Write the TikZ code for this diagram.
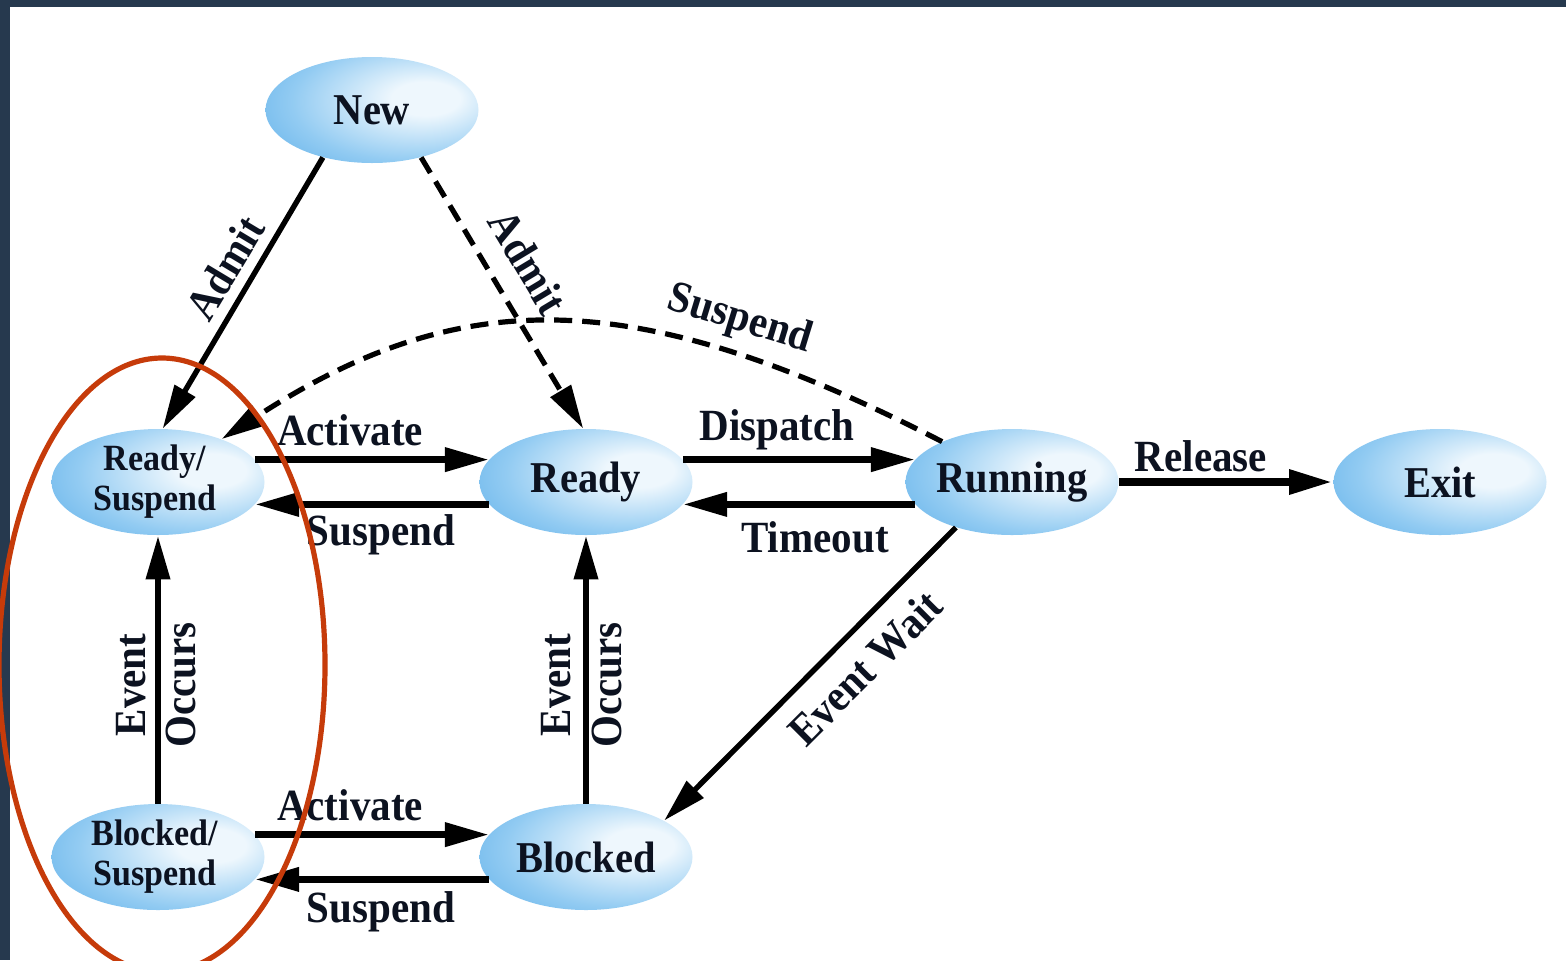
\documentclass[tikz,border=0pt]{standalone}
\usepackage{fontspec}
\setmainfont{Liberation Serif}[FakeStretch=0.92]
\usetikzlibrary{arrows.meta,shapes.geometric}

\definecolor{frame}{HTML}{26394E}
\definecolor{bA}{HTML}{EEF7FD}
\definecolor{bB}{HTML}{92CBF2}
\definecolor{bC}{HTML}{45A2E5}
\definecolor{ink}{HTML}{0C1220}
\definecolor{ring}{HTML}{C63B0A}

% soft blue bubble, brightest a little right of centre
\pgfdeclareradialshading{bubble}{\pgfpoint{14bp}{6bp}}{%
  color(0bp)=(bA); color(8bp)=(bA); color(28bp)=(bB);
  color(50bp)=(bC); color(80bp)=(bC)}

\tikzset{
  state/.style={ellipse, minimum width=106.5pt, minimum height=53pt,
    inner sep=0pt, shade, shading=bubble},
  stxt/.style={font=\fontsize{22}{24}\selectfont\bfseries, text=ink, inner sep=0pt},
  stxt2/.style={font=\fontsize{18.5}{20}\selectfont\bfseries, text=ink,
    align=center, inner sep=0pt, xshift=-1.5pt},
  lbl/.style={font=\fontsize{22.3}{24}\selectfont\bfseries, text=ink, inner sep=0pt},
  tip/.style={-{Triangle[length=22pt,width=11.5pt]}},
  flow/.style={tip, line width=3.4pt, black},
  thin/.style={tip, line width=2.7pt, black},
  dflow/.style={tip, line width=2.6pt, black, dash pattern=on 9pt off 5pt},
}

\begin{document}
\begin{tikzpicture}[x=0.5pt, y=-0.5pt]
  \useasboundingbox (0,0) rectangle (1566,960);
  \fill[frame] (0,0) rectangle (1566,960);
  \fill[white] (10,7) rectangle (1566,960);

  % states
  \node[state, label={[stxt]center:New}]                  (new) at (372,110) {};
  \node[state, label={[stxt2]center:Ready/\\Suspend}]     (rs)  at (158,482) {};
  \node[state, label={[stxt]center:Ready}]                (r)   at (586,482) {};
  \node[state, label={[stxt]center:Running}]              (run) at (1012,482) {};
  \node[state, label={[stxt]center:Exit}]                 (exit) at (1440,482) {};
  \node[state, label={[stxt2]center:Blocked/\\Suspend}]   (bs)  at (158,857) {};
  \node[state, label={[stxt]center:Blocked}]              (b)   at (586,857) {};

  % admission
  \draw[thin]  (new.224) -- (rs.85);
  \draw[dflow] (new.316) -- (r.93);
  \node[lbl, rotate=59]  (lAdm1) at (225,268) {Admit};
  \node[lbl, rotate=-59] (lAdm2) at (528,262) {Admit};

  % suspend from running
  \draw[dflow] (run.150) .. controls (637,285) and (463,283) .. (rs.34);
  \node[lbl, rotate=-17] (lSusR) at (740,320) {Suspend};

  % top row
  \draw[flow] (rs.13)  -- (r.167);
  \draw[flow] (r.193)  -- (rs.347);
  \draw[flow] (r.13)   -- (run.167);
  \draw[flow] (run.193) -- (r.347);
  \draw[tip, line width=4.4pt, black] (run.east) -- (exit.west);
  \node[lbl] (lAct1) at (350,430) {Activate};
  \node[lbl] (lSus1) at (381,535) {Suspend};
  \node[lbl] (lDis)  at (777,430) {Dispatch};
  \node[lbl] (lTim)  at (815,537) {Timeout};
  \node[lbl] (lRel)  at (1201,456) {Release};

  % event wait
  \draw[thin] (run.219) -- (b.25);
  \node[lbl, rotate=45] (lWait) at (865,668) {Event Wait};

  % event occurs
  \draw[flow] (bs.north) -- (rs.south);
  \draw[flow] (b.north)  -- (r.south);
  \node[lbl, rotate=90] (lEv1) at (131,685) {Event};
  \node[lbl, rotate=90] (lOc1) at (181,685) {Occurs};
  \node[lbl, rotate=90] (lEv2) at (556,685) {Event};
  \node[lbl, rotate=90] (lOc2) at (607,685) {Occurs};

  % bottom row
  \draw[flow] (bs.13) -- (b.167);
  \draw[flow] (b.193) -- (bs.347);
  \node[lbl] (lAct2) at (350,805) {Activate};
  \node[lbl] (lSus2) at (381,912) {Suspend};

  % highlight around the suspended states
  \draw[ring, line width=2.6pt] (162,665) ellipse [x radius=163, y radius=307];
\end{tikzpicture}
\end{document}
